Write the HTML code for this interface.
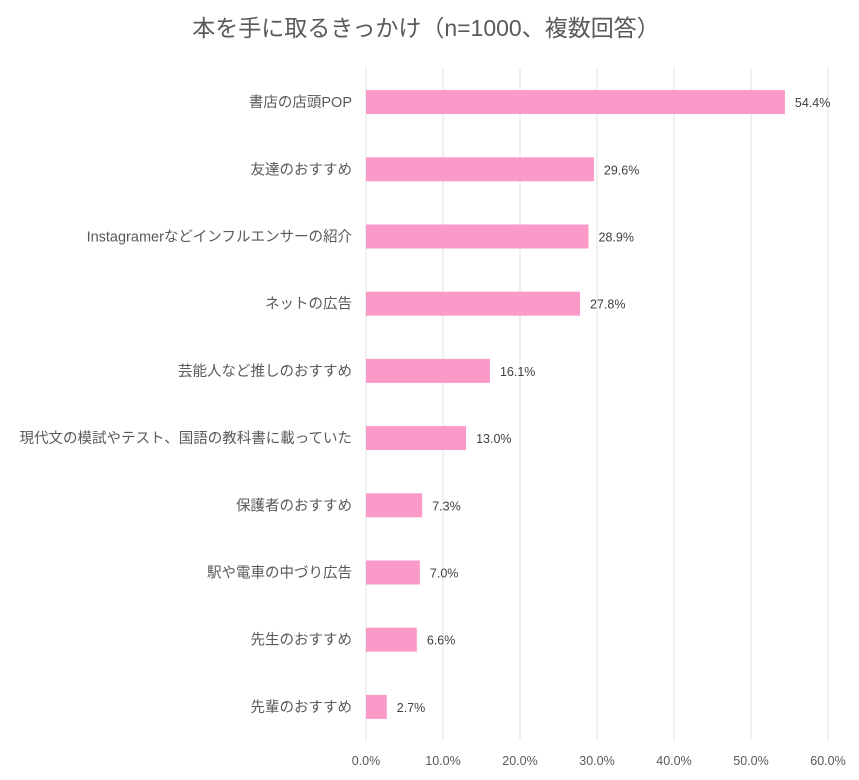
<!DOCTYPE html>
<html><head><meta charset="utf-8">
<style>
body{margin:0;background:#fff;}
svg text{font-family:"Liberation Sans","Noto Sans CJK JP",sans-serif;}
</style></head>
<body>
<svg id="chart" width="859" height="775" xmlns="http://www.w3.org/2000/svg">
<text x="426" y="36" text-anchor="middle" font-size="23" fill="#595959">本を手に取るきっかけ（n=1000、複数回答）</text>
<g id="grid"></g><g id="bars"></g><g id="labels"></g>
</svg>
<script>
const categories=["書店の店頭POP","友達のおすすめ","Instagramerなどインフルエンサーの紹介","ネットの広告","芸能人など推しのおすすめ","現代文の模試やテスト、国語の教科書に載っていた","保護者のおすすめ","駅や電車の中づり広告","先生のおすすめ","先輩のおすすめ"];
const values=[54.4,29.6,28.9,27.8,16.1,13.0,7.3,7.0,6.6,2.7];
const ticks=[0,10,20,30,40,50,60];
(function(){
const ns="http://www.w3.org/2000/svg";
const x0=366,x1=828,gTop=68,gBottom=740,rowTop=68.5,rowH=67.2,barH=24;
const xs=v=>x0+(v/60)*(x1-x0);
const yc=i=>rowTop+rowH*(i+0.5);
function mk(t,a,p){const e=document.createElementNS(ns,t);for(const k in a)e.setAttribute(k,a[k]);p.appendChild(e);return e;}
const g=document.getElementById('grid'),b=document.getElementById('bars'),l=document.getElementById('labels');
ticks.forEach(t=>{
 const ln=mk('line',{x1:xs(t),x2:xs(t),y1:gTop,y2:gBottom,stroke:'#e0e0e0','stroke-width':1},g);
 
 
 const tx=mk('text',{x:xs(t),y:765,'text-anchor':'middle','font-size':12.5,fill:'#595959'},g);
 tx.textContent=t.toFixed(1)+'%';
 
 
});
values.forEach((v,i)=>{
 const r=mk('rect',{x:x0,y:yc(i)-barH/2,width:xs(v)-x0,height:barH,fill:'#fb9ac8'},b);
 
 
 const vt=mk('text',{x:xs(v)+10,y:yc(i)+5,'font-size':12.5,fill:'#404040'},l);
 vt.textContent=v.toFixed(1)+'%';
 
 
 const ct=mk('text',{x:352,y:yc(i)+5,'text-anchor':'end','font-size':14.5,fill:'#595959'},l);
 ct.textContent=categories[i];
 
 
});
})();
</script>
</body></html>
